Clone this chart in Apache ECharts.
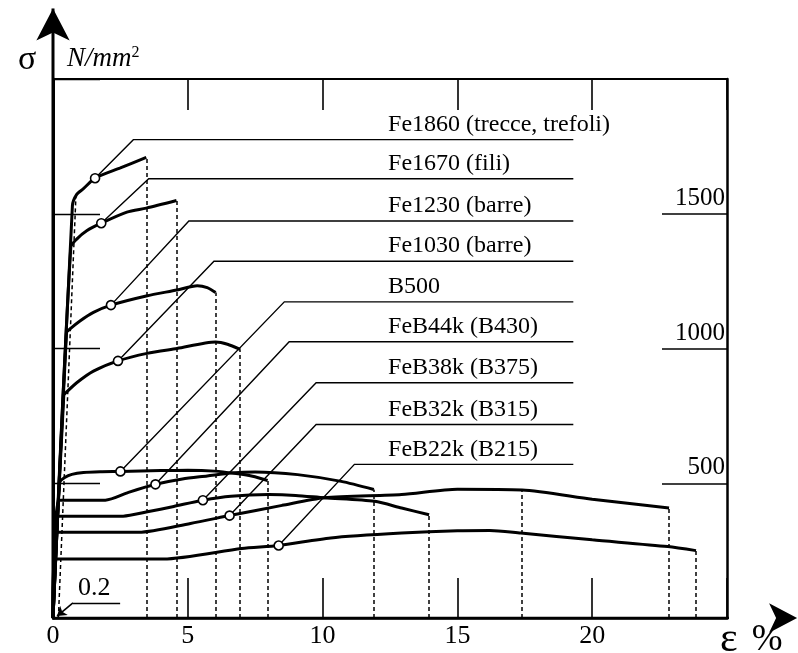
<!DOCTYPE html>
<html><head><meta charset="utf-8">
<script src="https://cdn.jsdelivr.net/npm/echarts@6/dist/echarts.min.js"></script>
<style>html,body{margin:0;padding:0;background:#fff}#c{width:798px;height:653px}</style>
</head><body><div id="c"></div>
<script>
// ---- data (epsilon %, sigma N/mm2) ----
const xTickLabels = [0, 5, 10, 15, 20];
const yTickLabels = [500, 1000, 1500];

const fe1860 = [[0,0],[0.72,1530],[0.88,1572],[1.13,1593],[1.56,1632],[2.5,1670],[3.46,1709]];
const fe1670 = [[0,0],[0.66,1376],[0.88,1406],[1.25,1437],[1.79,1465],[2.74,1506],[3.46,1521],[4.58,1549]];
const fe1230 = [[0,0],[0.5,1059],[0.6,1070],[1.0,1102],[1.5,1134],[2.15,1161],[3.46,1195],[4.6,1217],[5.35,1233],[5.72,1226],[6.03,1208]];
const fe1030 = [[0,0],[0.4,826],[0.5,838],[0.88,873],[1.5,916],[2.41,954],[3.49,982],[4.6,1000],[6.03,1024],[6.47,1016],[6.94,997]];
const b500   = [[0,0],[0.25,503],[0.45,522],[0.7,533],[1.13,540],[1.75,543],[2.5,544],[4.0,547],[5.0,548],[6.0,545],[6.72,537],[7.4,526],[7.96,510]];
const feB44k = [[0,0],[0.22,437],[1.94,437],[2.8,466],[3.8,496],[4.8,516],[5.72,527],[6.6,538],[7.5,542],[9.07,532],[10.69,507],[11.9,477]];
const feB38k = [[0,0],[0.19,378],[2.6,378],[3.5,394],[4.48,414],[5.56,437],[6.6,452],[8.0,458],[9.0,455],[10.07,446],[11.93,433],[12.93,408],[13.95,383]];
const feB32k = [[0,0],[0.16,318],[3.18,318],[5.1,351],[6.55,380],[8.5,418],[10.07,446],[12.93,458],[15.0,478],[17.4,475],[20.0,441],[22.85,408]];
const feB22k = [[0,0],[0.11,219],[4.1,219],[7.0,258],[8.37,269],[10.3,297],[12.93,315],[15.0,324],[16.2,325],[17.35,315],[20.0,290],[22.8,265],[23.85,250]];

const curveData = [fe1860, fe1670, fe1230, fe1030, b500, feB44k, feB38k, feB32k, feB22k];

const labelNames = ['Fe1860 (trecce, trefoli)','Fe1670 (fili)','Fe1230 (barre)','Fe1030 (barre)','B500','FeB44k (B430)','FeB38k (B375)','FeB32k (B315)','FeB22k (B215)'];
const markCircles = [[1.56,1632],[1.79,1465],[2.15,1161],[2.41,954],[2.5,544],[3.8,496],[5.56,437],[6.55,380],[8.37,269]];
const leaderLevels = [1775,1630,1473,1324,1173,1025,873,718,570];
const leaderBendX = [2.98,3.55,5.04,5.97,8.58,8.76,9.76,9.76,11.18];
const leaderEndX = 19.3;
const labelStartX = 12.43;

// ends of the dashed verticals (strain at rupture etc.)
const dashedTops = [[3.46,1709],[4.58,1549],[6.03,1208],[6.94,997],[7.96,510],[11.9,477],[13.95,383],[17.4,475],[22.85,408],[23.85,250]];
const offsetLine = [[0.2,0],[0.85,1565]];   // 0.2 % offset line

const note02Under = [[0.74,56],[2.49,56]];
const note02Arrow = [[0.74,56],[0.15,7]];
const note02Label = [0.93,56];

const yAxisTop = 2262, xAxisEnd = 27.6;

// ---- chart ----
const FONT = 'Liberation Serif';
const INK = '#000';
const chart = echarts.init(document.getElementById('c'), null, {renderer:'canvas'});

const series = [];
// extended axes
series.push({type:'line', data:[[0,0],[0,yAxisTop]], symbol:'none', clip:false, lineStyle:{color:INK,width:3}, z:5, silent:true});
series.push({type:'line', data:[[0,0],[xAxisEnd,0]], symbol:'none', clip:false, lineStyle:{color:INK,width:2.5}, z:5, silent:true});
series.push({type:'scatter', clip:false, symbol:'arrow', z:6, silent:true, itemStyle:{color:INK, opacity:1},
  data:[{value:[0,yAxisTop], symbolSize:[25,32], symbolRotate:0},{value:[xAxisEnd,0], symbolSize:[22,28], symbolRotate:-90}]});

// dashed verticals
series.push({type:'lines', coordinateSystem:'cartesian2d', silent:true, z:2,
  lineStyle:{color:INK, width:1.5, type:[4,3], opacity:1},
  data: dashedTops.map(p => ({coords:[[p[0],0],[p[0],p[1]]]})).concat([{coords: offsetLine}])});

// leaders
series.push({type:'lines', coordinateSystem:'cartesian2d', polyline:true, silent:true, z:3,
  lineStyle:{color:INK, width:1.4, opacity:1},
  data: markCircles.map((c,i) => ({coords:[c,[leaderBendX[i],leaderLevels[i]],[leaderEndX,leaderLevels[i]]]}))});

// curves
curveData.forEach(d => series.push({type:'line', data:d, symbol:'none', smooth:0.25, z:4,
  lineStyle:{color:INK, width:3}, silent:true}));

// circles
series.push({type:'scatter', data:markCircles, symbol:'circle', symbolSize:9, z:7, silent:true,
  itemStyle:{color:'#fff', borderColor:INK, borderWidth:1.6, opacity:1}});

// labels
series.push({type:'scatter', symbolSize:0, z:8, silent:true, itemStyle:{opacity:1},
  data: labelNames.map((n,i) => ({value:[labelStartX, leaderLevels[i]], name:n})),
  label:{show:true, formatter:p=>p.name, position:[0,-3], align:'left', verticalAlign:'bottom',
    fontFamily:FONT, fontSize:24, color:INK, opacity:1}});

// 0.2 note
series.push({type:'lines', coordinateSystem:'cartesian2d', silent:true, z:3, lineStyle:{color:INK,width:1.4,opacity:1},
  data:[{coords:note02Under}]});
series.push({type:'lines', coordinateSystem:'cartesian2d', silent:true, z:3, lineStyle:{color:INK,width:1.6,opacity:1},
  symbol:['none','arrow'], symbolSize:9, data:[{coords:note02Arrow}]});
series.push({type:'scatter', symbolSize:0, z:8, silent:true, itemStyle:{opacity:1}, data:[{value:note02Label, name:'0.2'}],
  label:{show:true, formatter:'0.2', position:[0,-2], align:'left', verticalAlign:'bottom', fontFamily:FONT, fontSize:26, color:INK, opacity:1}});

chart.setOption({
  backgroundColor:'#fff',
  animation:false,
  title:[
    {text:'σ', left:18, top:43, padding:0, textStyle:{fontFamily:FONT, fontSize:34, fontWeight:'normal', color:INK}},
    {text:'{n|N/mm}{s|2}', left:67, top:45, padding:0, textStyle:{fontWeight:'normal', rich:{
      n:{fontFamily:FONT, fontStyle:'italic', fontWeight:'normal', fontSize:27, color:INK},
      s:{fontFamily:FONT, fontWeight:'normal', fontSize:16, color:INK, verticalAlign:'top', padding:[0,0,12,0]}}}},
    {text:'{e|ε}{g|}{p|%}', left:720, top:619, padding:0, textStyle:{fontWeight:'normal', rich:{
      e:{fontFamily:FONT, fontWeight:'normal', fontSize:42, color:INK},
      g:{width:14},
      p:{fontFamily:FONT, fontWeight:'normal', fontSize:37, color:INK}}}}
  ],
  grid:{left:53, right:71, top:79, bottom:35, containLabel:false},
  xAxis:[
    {type:'value', position:'bottom', min:0, max:25, interval:5,
     axisLine:{show:true, onZero:false, lineStyle:{color:INK,width:2.5}},
     axisTick:{show:true, inside:true, length:40, lineStyle:{color:INK,width:1.6}},
     axisLabel:{show:true, margin:5, fontFamily:FONT, fontSize:26, color:INK,
       formatter:v => xTickLabels.includes(v) ? String(v) : ''},
     splitLine:{show:false}},
    {type:'value', position:'top', min:0, max:25, interval:5,
     axisLine:{show:true, onZero:false, lineStyle:{color:INK,width:2}},
     axisTick:{show:true, inside:true, length:31, lineStyle:{color:INK,width:1.6}},
     axisLabel:{show:false}, splitLine:{show:false}}
  ],
  yAxis:[
    {type:'value', position:'left', min:0, max:2000, interval:500,
     axisLine:{show:true, onZero:false, lineStyle:{color:INK,width:3}},
     axisTick:{show:true, inside:true, length:47, lineStyle:{color:INK,width:1.4}},
     axisLabel:{show:false}, splitLine:{show:false}},
    {type:'value', position:'right', min:0, max:2000, interval:500,
     axisLine:{show:true, onZero:false, lineStyle:{color:INK,width:2.5}},
     axisTick:{show:true, inside:true, length:65, lineStyle:{color:INK,width:1.6}},
     axisLabel:{show:true, inside:true, margin:2, fontFamily:FONT, fontSize:25, color:INK,
       verticalAlign:'bottom', padding:[0,0,3,0],
       formatter:v => yTickLabels.includes(v) ? String(v) : ''},
     splitLine:{show:false}}
  ],
  series: series
});
</script></body></html>
